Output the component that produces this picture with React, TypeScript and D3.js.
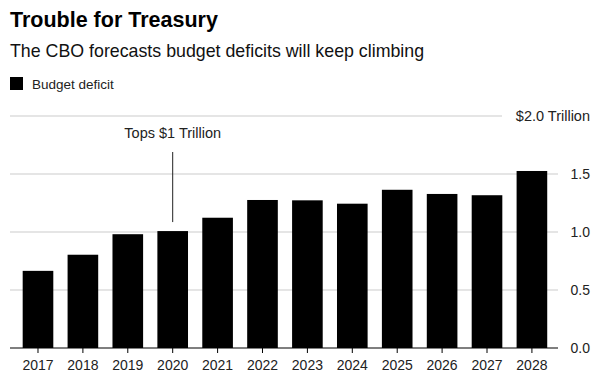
import * as d3 from 'd3';

const years = ['2017', '2018', '2019', '2020', '2021', '2022', '2023', '2024', '2025', '2026', '2027', '2028'];
const deficit = [0.665, 0.804, 0.981, 1.008, 1.123, 1.276, 1.273, 1.244, 1.364, 1.328, 1.317, 1.526];
const yTicks = [0, 0.5, 1.0, 1.5, 2.0];
const annotation = { year: '2020', label: 'Tops $1 Trillion' };

const W = 600;
const H = 373;
const font = 'Liberation Sans, Arial, Helvetica, sans-serif';

export default function App() {
  const x = d3.scaleBand<string>().domain(years).range([8.4, 561.5]).paddingInner(0.318).paddingOuter(0.318);
  const y = d3.scaleLinear().domain([0, 2]).range([348, 116]);
  const left = 10;
  const right = 558;

  const ax = (x(annotation.year) ?? 0) + x.bandwidth() / 2;
  const aVal = deficit[years.indexOf(annotation.year)];

  return (
    <svg width={W} height={H} style={{ position: 'absolute', left: 0, top: 0, background: '#fff' }} fontFamily={font}>
      <text x={10} y={27} fontSize={21.5} fontWeight="bold" fill="#000">Trouble for Treasury</text>
      <text x={10} y={57} fontSize={17.8} fill="#111">The CBO forecasts budget deficits will keep climbing</text>
      <rect x={10} y={77} width={13} height={13} fill="#000" />
      <text x={32} y={89} fontSize={13.5} fill="#222">Budget deficit</text>

      {yTicks.filter((t) => t > 0).map((t) => (
        <line key={t} x1={left} x2={t === 2 ? 502 : right} y1={y(t)} y2={y(t)} stroke="#dcdcdc" strokeWidth={1.5} />
      ))}
      {yTicks.map((t) => (
        <text key={t} x={590} y={y(t) + 5} fontSize={t === 2 ? 14.5 : 14} textAnchor="end" fill="#222">
          {t === 2 ? '$2.0 Trillion' : d3.format('.1f')(t)}
        </text>
      ))}

      {years.map((yr, i) => (
        <rect key={yr} x={x(yr)} y={y(deficit[i])} width={x.bandwidth()} height={y(0) - y(deficit[i])} fill="#000" />
      ))}

      <line x1={left} x2={right} y1={y(0)} y2={y(0)} stroke="#000" strokeWidth={1.2} />
      {years.map((yr) => {
        const cx = (x(yr) ?? 0) + x.bandwidth() / 2;
        return (
          <g key={yr}>
            <line x1={cx} x2={cx} y1={y(0)} y2={y(0) + 5} stroke="#000" strokeWidth={1} />
            <text x={cx} y={370} fontSize={14} textAnchor="middle" fill="#222">{yr}</text>
          </g>
        );
      })}

      <line x1={ax} x2={ax} y1={152} y2={y(aVal) - 9} stroke="#222" strokeWidth={1} />
      <text x={ax} y={138} fontSize={14.5} textAnchor="middle" fill="#222">{annotation.label}</text>
    </svg>
  );
}
